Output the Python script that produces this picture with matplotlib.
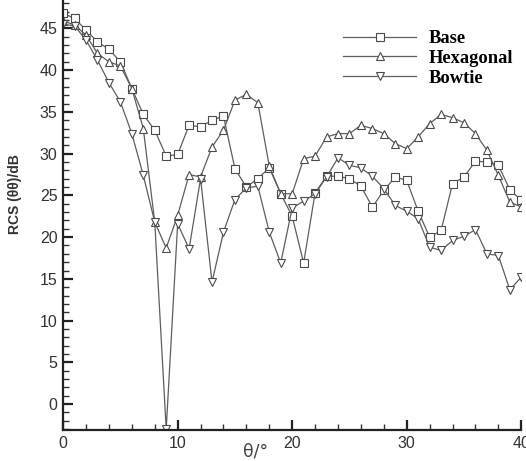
import matplotlib
matplotlib.use("Agg")
import matplotlib.pyplot as plt
from matplotlib.ticker import MultipleLocator

theta = list(range(0, 41))
base = [46.8, 46.2, 44.8, 43.4, 42.5, 41.0, 37.8, 34.7, 32.8, 29.7, 29.9, 33.4, 33.2, 34.0,
        34.5, 28.2, 26.0, 27.0, 28.3, 25.2, 22.5, 16.9, 25.3, 27.3, 27.3, 27.0, 26.1, 23.6,
        25.6, 27.2, 26.8, 23.1, 20.0, 20.8, 26.4, 27.2, 29.1, 29.0, 28.6, 25.7, 24.4]
hexagonal = [45.9, 45.4, 44.2, 42.0, 41.0, 40.5, 37.8, 33.0, 21.8, 18.7, 22.6, 27.5, 27.2, 30.8,
             32.8, 36.4, 37.1, 36.1, 28.5, 25.2, 25.2, 29.4, 29.7, 32.0, 32.4, 32.4, 33.4, 33.0,
             32.4, 31.2, 30.6, 32.0, 33.6, 34.7, 34.3, 33.7, 32.4, 30.4, 27.4, 24.2, 23.6]
bowtie = [45.5, 45.3, 43.6, 41.2, 38.5, 36.2, 32.4, 27.4, 21.8, -3.0, 21.6, 18.6, 27.0, 14.6,
          20.6, 24.5, 25.9, 26.1, 20.6, 16.9, 23.5, 24.3, 25.2, 27.2, 29.5, 28.6, 28.3, 27.3,
          25.8, 23.8, 23.1, 22.2, 18.8, 18.4, 19.6, 20.1, 20.9, 18.0, 17.8, 13.7, 15.2]

series = [("Base", base, "s"), ("Hexagonal", hexagonal, "^"), ("Bowtie", bowtie, "v")]

fig = plt.figure(figsize=(5.26, 4.61), dpi=100)
ax = fig.add_axes([0.12, 0.0672, 0.871, 0.9328])

for name, vals, m in series:
    ax.plot(theta, vals, color="#5e5e5e", lw=0.9, marker=m, markersize=5.5,
            markerfacecolor="white", markeredgecolor="#4a4a4a", markeredgewidth=0.8,
            label=name)

ax.set_xlim(0, 40)
ax.set_ylim(-3.1, 48.4)
ax.xaxis.set_major_locator(MultipleLocator(10))
ax.xaxis.set_minor_locator(MultipleLocator(2))
ax.yaxis.set_major_locator(MultipleLocator(5))
ax.yaxis.set_minor_locator(MultipleLocator(1))
ax.spines["top"].set_visible(False)
ax.spines["right"].set_visible(False)
for s in ("left", "bottom"):
    ax.spines[s].set_linewidth(1.6)
    ax.spines[s].set_color("#222222")
ax.tick_params(which="major", direction="in", length=7, width=1.6, color="#222222",
               labelsize=11.5, labelcolor="#333333", pad=4)
ax.tick_params(which="minor", direction="in", length=4, width=1.0, color="#333333")
for lab in ax.get_xticklabels() + ax.get_yticklabels():
    lab.set_family("Liberation Sans")

ax.set_ylabel("RCS (θθ)/dB", fontsize=10, fontweight="bold", family="Liberation Sans",
              color="#333333")
ax.yaxis.set_label_coords(-0.09, 0.549)
ax.set_xlabel("θ/°", fontsize=12.5, family="DejaVu Sans", color="#444444")
ax.xaxis.set_label_coords(0.42, -0.03)

leg = ax.legend(loc="upper left", bbox_to_anchor=(0.6115, 0.93), frameon=False,
                prop={"family": "Liberation Serif", "weight": "bold", "size": 13.3},
                handlelength=3.95, handletextpad=0.65, labelspacing=0.15,
                borderpad=0, borderaxespad=0)

fig.savefig("out.png", dpi=100)
